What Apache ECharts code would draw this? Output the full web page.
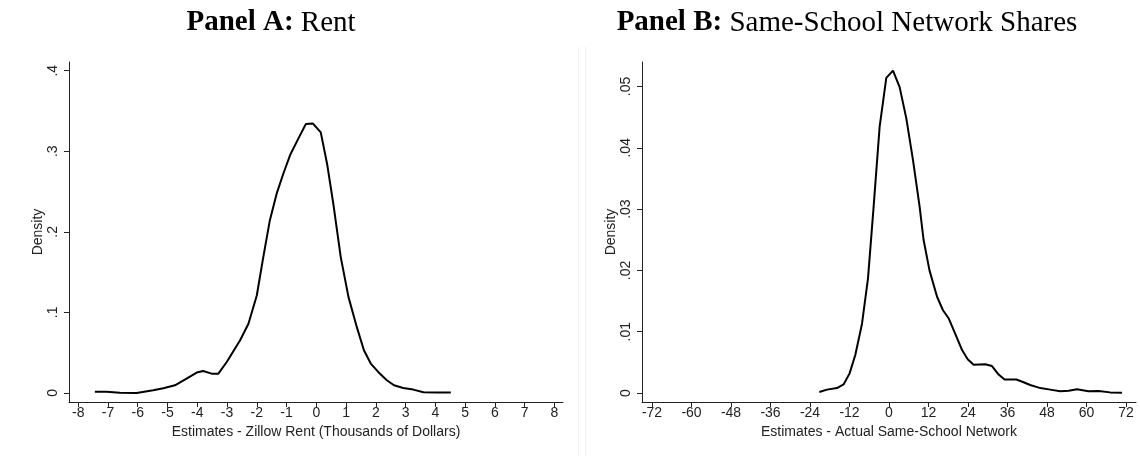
<!DOCTYPE html>
<html>
<head>
<meta charset="utf-8">
<script src="https://cdn.jsdelivr.net/npm/echarts@6/dist/echarts.min.js"></script>
<style>html,body{margin:0;padding:0;background:#fff}#c{width:1140px;height:456px}</style>
</head>
<body>
<div id="c"></div>
<script>
// Panel A: Rent (estimates - Zillow rent, thousands of dollars)
const rentX = [-7.44,-7.05,-6.6,-6.04,-5.48,-5.14,-4.75,-4.36,-4.02,-3.8,-3.52,-3.29,-3.01,-2.56,-2.28,-2.0,-1.78,-1.56,-1.33,-1.1,-0.88,-0.6,-0.35,-0.12,0.15,0.37,0.57,0.82,1.08,1.36,1.6,1.83,2.08,2.37,2.61,2.92,3.26,3.6,4.05,4.52];
const rentY = [0.0015,0.0015,0.0003,0.0,0.0034,0.0058,0.0095,0.0179,0.0253,0.0273,0.024,0.024,0.0385,0.0655,0.086,0.121,0.169,0.2145,0.2477,0.273,0.2953,0.316,0.3338,0.3346,0.3234,0.2829,0.2352,0.169,0.1193,0.082,0.053,0.0365,0.0261,0.0158,0.0096,0.0062,0.0042,0.0009,0.0005,0.0005];
// Panel B: Same-school network shares (estimates - actual)
const netX = [-21.17,-18.84,-15.8,-13.8,-11.97,-10.24,-8.2,-6.38,-4.67,-2.85,-0.82,1.21,3.23,5.26,7.29,9.3,10.5,12.3,14.6,16.4,18.1,20.1,22.2,23.9,25.7,29.26,31.3,33.3,35.1,38.7,40.7,42.9,46,49,52,54.6,57.1,60.6,63.7,67.2,70.8];
const netY = [0.00016,0.00055,0.0008,0.0014,0.0032,0.0062,0.0113,0.0187,0.0304,0.0434,0.0514,0.0526,0.0499,0.0448,0.038,0.0304,0.025,0.02,0.0157,0.0135,0.0122,0.0097,0.007,0.0055,0.0046,0.0047,0.0044,0.003,0.0022,0.0022,0.0018,0.0013,0.0008,0.00055,0.0003,0.00035,0.0006,0.0003,0.00033,0.0001,0.00005];
// Tick labels
const rentXTicks = [-8,-7,-6,-5,-4,-3,-2,-1,0,1,2,3,4,5,6,7,8];
const rentYTicks = [0,0.1,0.2,0.3,0.4];
const netXTicks = [-72,-60,-48,-36,-24,-12,0,12,24,36,48,60,72];
const netYTicks = [0,0.01,0.02,0.03,0.04,0.05];
const titles = ['Panel A:', 'Rent', 'Panel B:', 'Same-School Network Shares'];
const xNames = ['Estimates - Zillow Rent (Thousands of Dollars)', 'Estimates - Actual Same-School Network'];
const yName = 'Density';

const stataFmt = v => {
  if (Math.abs(v) < 1e-12) return '0';
  let s = String(+v.toFixed(4));
  return s.replace(/^0\./, '.').replace(/^-0\./, '-.');
};
const zip = (xs, ys) => xs.map((x, i) => [x, ys[i]]);

const sans = '"Liberation Sans", Arial, sans-serif';
const serif = '"Liberation Serif", "Times New Roman", serif';
const axisColor = '#222';
const FS = 14;

function xAxis(grid, min, max, ticks, name) {
  return {
    type: 'value', gridIndex: grid, min: min, max: max,
    name: name, nameLocation: 'middle', nameGap: 23,
    nameTextStyle: { fontFamily: sans, fontSize: FS, color: '#222' },
    axisLine: { show: true, onZero: false, lineStyle: { color: axisColor, width: 1 } },
    axisTick: { show: true, length: 5, lineStyle: { color: axisColor }, customValues: ticks },
    axisLabel: { show: true, margin: 4, fontFamily: sans, fontSize: FS, color: '#222', customValues: ticks, formatter: v => String(v) },
    splitLine: { show: false }
  };
}
function yAxis(grid, min, max, ticks) {
  return {
    type: 'value', gridIndex: grid, min: min, max: max,
    name: yName, nameLocation: 'middle', nameGap: 23, nameRotate: 90,
    nameTextStyle: { fontFamily: sans, fontSize: FS, color: '#222' },
    axisLine: { show: true, onZero: false, lineStyle: { color: axisColor, width: 1 } },
    axisTick: { show: true, length: 5, lineStyle: { color: axisColor }, customValues: ticks },
    axisLabel: { show: true, rotate: 90, margin: 9, fontFamily: sans, fontSize: FS, color: '#222', customValues: ticks, formatter: stataFmt },
    splitLine: { show: false }
  };
}

const chart = echarts.init(document.getElementById('c'), null, { renderer: 'canvas' });
chart.setOption({
  animation: false,
  backgroundColor: '#fff',
  grid: [
    { left: 69, top: 62, width: 494, height: 340, containLabel: false },
    { left: 642, top: 62, width: 494, height: 340, containLabel: false }
  ],
  xAxis: [
    xAxis(0, -8.31, 8.29, rentXTicks, xNames[0]),
    xAxis(1, -75.04, 75.04, netXTicks, xNames[1])
  ],
  yAxis: [
    yAxis(0, -0.0112, 0.4108, rentYTicks),
    yAxis(1, -0.00147, 0.054, netYTicks)
  ],
  series: [
    { type: 'line', xAxisIndex: 0, yAxisIndex: 0, data: zip(rentX, rentY), showSymbol: false, symbol: 'none',
      lineStyle: { color: '#000', width: 2 }, silent: true },
    { type: 'line', xAxisIndex: 1, yAxisIndex: 1, data: zip(netX, netY), showSymbol: false, symbol: 'none',
      lineStyle: { color: '#000', width: 2 }, silent: true }
  ],
  graphic: [
    { type: 'line', shape: { x1: 578.5, y1: 47, x2: 578.5, y2: 456 }, style: { stroke: '#efefef', lineWidth: 1 }, silent: true },
    { type: 'line', shape: { x1: 585.5, y1: 47, x2: 585.5, y2: 456 }, style: { stroke: '#efefef', lineWidth: 1 }, silent: true },
    { type: 'text', x: 271, y: 23, silent: true,
      style: { text: '{b|' + titles[0] + '}{r| ' + titles[1] + '}', align: 'center', verticalAlign: 'middle', textAlign: 'center', textVerticalAlign: 'middle',
        rich: { b: { fontFamily: serif, fontWeight: 'bold', fontSize: 29, fill: '#000', color: '#000' },
                r: { fontFamily: serif, fontSize: 29, fill: '#000', color: '#000' } } } },
    { type: 'text', x: 847, y: 23, silent: true,
      style: { text: '{b|' + titles[2] + '}{r| ' + titles[3] + '}', align: 'center', verticalAlign: 'middle', textAlign: 'center', textVerticalAlign: 'middle',
        rich: { b: { fontFamily: serif, fontWeight: 'bold', fontSize: 29, fill: '#000', color: '#000' },
                r: { fontFamily: serif, fontSize: 29, fill: '#000', color: '#000' } } } }
  ]
});
</script>
</body>
</html>
